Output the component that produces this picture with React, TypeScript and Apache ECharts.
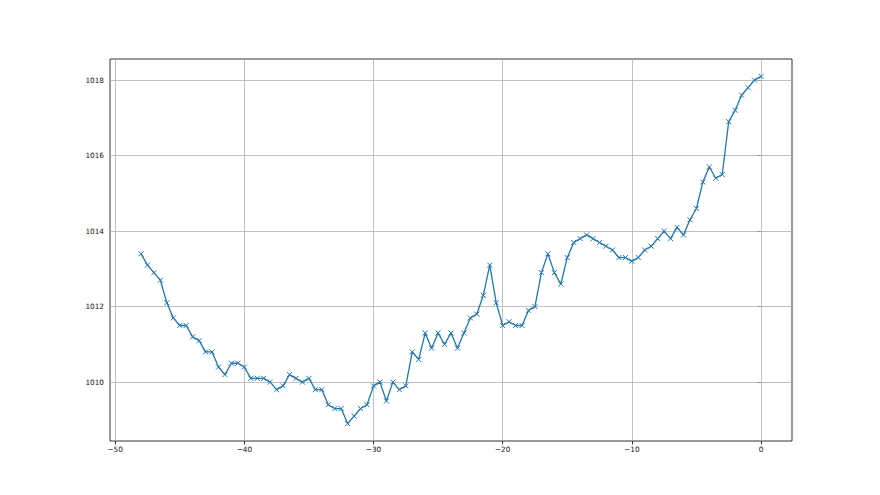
import React, { useEffect, useRef } from "react";
import * as echarts from "echarts";

const xValues: number[] = [];
for (let i = 0; i <= 96; i++) xValues.push(-48 + i * 0.5);

const pressure: number[] = [
  1013.4, 1013.1, 1012.9, 1012.7, 1012.1, 1011.7, 1011.5, 1011.5, 1011.2, 1011.1,
  1010.8, 1010.8, 1010.4, 1010.2, 1010.5, 1010.5, 1010.4, 1010.1, 1010.1, 1010.1,
  1010.0, 1009.8, 1009.9, 1010.2, 1010.1, 1010.0, 1010.1, 1009.8, 1009.8, 1009.4,
  1009.3, 1009.3, 1008.9, 1009.1, 1009.3, 1009.4, 1009.9, 1010.0, 1009.5, 1010.0,
  1009.8, 1009.9, 1010.8, 1010.6, 1011.3, 1010.9, 1011.3, 1011.0, 1011.3, 1010.9,
  1011.3, 1011.7, 1011.8, 1012.3, 1013.1, 1012.1, 1011.5, 1011.6, 1011.5, 1011.5,
  1011.9, 1012.0, 1012.9, 1013.4, 1012.9, 1012.6, 1013.3, 1013.7, 1013.8, 1013.9,
  1013.8, 1013.7, 1013.6, 1013.5, 1013.3, 1013.3, 1013.2, 1013.3, 1013.5, 1013.6,
  1013.8, 1014.0, 1013.8, 1014.1, 1013.9, 1014.3, 1014.6, 1015.3, 1015.7, 1015.4,
  1015.5, 1016.9, 1017.2, 1017.6, 1017.8, 1018.0, 1018.1,
];

const xTicks: number[] = [-50, -40, -30, -20, -10, 0];
const yTicks: number[] = [1010, 1012, 1014, 1016, 1018];

const X_MIN = -50.4;
const X_MAX = 2.4;
const Y_MIN = 1008.44;
const Y_MAX = 1018.56;

const fmtMinus = (v: number) => String(v).replace("-", "\u2212");

export default function App() {
  const ref = useRef<HTMLDivElement>(null);
  useEffect(() => {
    if (!ref.current) return;
    const chart = echarts.init(ref.current, null, { renderer: "svg" });
    const data = xValues.map((x, i) => [x, pressure[i]]);
    const gridLine = { color: "#b0b0b0", width: 0.8, type: "solid" as const };
    const textStyle = { fontFamily: "DejaVu Sans", fontSize: 7.3, color: "#111" };
    chart.setOption({
      animation: false,
      backgroundColor: "#ffffff",
      grid: {
        left: 110,
        top: 59,
        right: 88,
        bottom: 54,
        show: true,
        borderColor: "#000",
        borderWidth: 0.8,
        backgroundColor: "transparent",
      },
      xAxis: {
        type: "value",
        min: X_MIN,
        max: X_MAX,
        axisLine: { show: false },
        splitLine: { show: false },
        axisTick: {
          show: true,
          customValues: xTicks,
          length: 3.5,
          lineStyle: { color: "#000", width: 0.8 },
        },
        axisLabel: {
          customValues: xTicks,
          formatter: (v: number) => fmtMinus(v),
          margin: 5,
          ...textStyle,
        },
      },
      yAxis: {
        type: "value",
        min: Y_MIN,
        max: Y_MAX,
        axisLine: { show: false },
        splitLine: { show: false },
        axisTick: {
          show: true,
          customValues: yTicks,
          length: 3.5,
          lineStyle: { color: "#000", width: 0.8 },
        },
        axisLabel: {
          customValues: yTicks,
          formatter: (v: number) => String(v),
          margin: 6,
          ...textStyle,
        },
      },
      series: [
        {
          type: "line",
          data: data,
          z: 1,
          silent: true,
          symbol: "none",
          lineStyle: { opacity: 0 },
          markLine: {
            z: 1,
            silent: true,
            symbol: ["none", "none"],
            label: { show: false },
            lineStyle: gridLine,
            emphasis: { disabled: true },
            data: [
              ...xTicks.map((v) => ({ xAxis: v })),
              ...yTicks.map((v) => ({ yAxis: v })),
            ],
          },
        },
        {
          type: "line",
          data: data,
          z: 3,
          symbol: "path://M0,0L10,10M10,0L0,10",
          symbolSize: 5,
          showAllSymbol: true,
          lineStyle: { color: "#1f77b4", width: 1.3 },
          itemStyle: { color: "#1f77b4", borderColor: "#1f77b4", borderWidth: 1 },
          emphasis: { disabled: true },
        },
      ],
    });
    return () => chart.dispose();
  }, []);
  return (
    <div
      ref={ref}
      style={{ position: "absolute", left: 0, top: 0, width: 880, height: 495 }}
    />
  );
}
